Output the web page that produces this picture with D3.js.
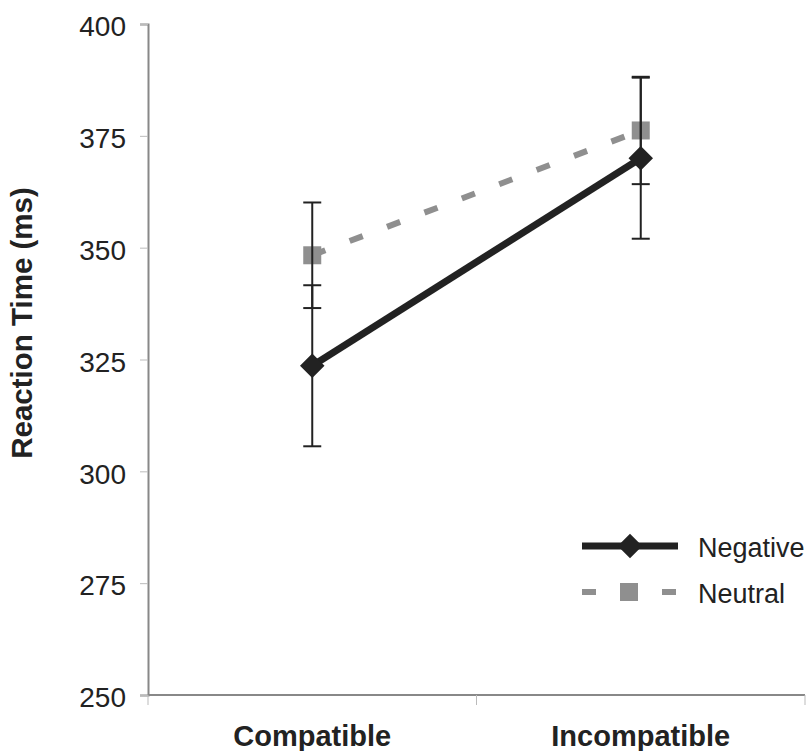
<!DOCTYPE html>
<html lang="en">
<head>
  <meta charset="UTF-8">
  <title>Reaction Time</title>
  <script src="https://d3js.org/d3.v7.min.js"></script>
  <style>
    body { margin: 0; background: #fff; }
    svg text { font-family: "Liberation Sans", Arial, sans-serif; fill: #222; }
  </style>
</head>
<body>
  <svg id="chart" width="808" height="751"></svg>
  <script>
    // data
    const categories = ["Compatible", "Incompatible"];
    const negative = [323.6, 370.0];
    const negativeErr = [18, 18];
    const neutral = [348.3, 376.2];
    const neutralErr = [11.8, 12];
    const yTicks = [250, 275, 300, 325, 350, 375, 400];

    const svg = d3.select("#chart");
    const plotLeft = 148, plotRight = 805, plotTop = 24, plotBottom = 695;

    const y = d3.scaleLinear().domain([250, 400]).range([plotBottom, plotTop]);
    const band = d3.scaleBand().domain(categories).range([plotLeft, plotRight]);
    const cx = d => band(d) + band.bandwidth() / 2;

    // y axis
    const yAxis = svg.append("g")
      .attr("transform", `translate(${plotLeft},0)`)
      .call(d3.axisLeft(y).tickValues(yTicks).tickSize(8).tickPadding(14));
    yAxis.select(".domain").attr("stroke", "#888").attr("stroke-width", 2);
    yAxis.selectAll(".tick line").attr("stroke", "#bbb");
    yAxis.selectAll(".tick text")
      .attr("font-size", 28)
      .attr("fill", "#222")
      .attr("dy", "0.42em");

    // x axis with ticks at band edges
    const edges = categories.map(c => band(c)).concat([plotRight]);
    svg.append("line")
      .attr("x1", plotLeft).attr("x2", plotRight)
      .attr("y1", plotBottom).attr("y2", plotBottom)
      .attr("stroke", "#888").attr("stroke-width", 2);
    svg.selectAll(".xtick").data(edges).enter().append("line")
      .attr("class", "xtick")
      .attr("x1", d => d).attr("x2", d => d)
      .attr("y1", plotBottom).attr("y2", plotBottom + 10)
      .attr("stroke", "#bbb");
    svg.selectAll(".xlab").data(categories).enter().append("text")
      .attr("class", "xlab")
      .attr("x", cx).attr("y", 746)
      .attr("text-anchor", "middle")
      .attr("font-size", 29)
      .attr("font-weight", "bold")
      .text(d => d);

    svg.append("text")
      .attr("transform", "translate(32,323) rotate(-90)")
      .attr("text-anchor", "middle")
      .attr("font-size", 29.5)
      .attr("font-weight", "bold")
      .text("Reaction Time (ms)");

    const line = d3.line().x((d, i) => cx(categories[i])).y(d => y(d));

    // neutral series
    svg.append("path")
      .datum(neutral)
      .attr("d", line)
      .attr("fill", "none")
      .attr("stroke", "#8f8f8f")
      .attr("stroke-width", 6)
      .attr("stroke-dasharray", "14,26");
    svg.selectAll(".sq").data(neutral).enter().append("rect")
      .attr("class", "sq")
      .attr("x", (d, i) => cx(categories[i]) - 9)
      .attr("y", d => y(d) - 9)
      .attr("width", 18).attr("height", 18)
      .attr("fill", "#8f8f8f");

    // error bars
    const bars = [];
    categories.forEach((c, i) => {
      bars.push({ c, v: negative[i], e: negativeErr[i] });
      bars.push({ c, v: neutral[i], e: neutralErr[i] });
    });
    const eb = svg.selectAll(".eb").data(bars).enter().append("g")
      .attr("class", "eb")
      .attr("stroke", "#222").attr("stroke-width", 2);
    eb.append("line")
      .attr("x1", d => cx(d.c)).attr("x2", d => cx(d.c))
      .attr("y1", d => y(d.v - d.e)).attr("y2", d => y(d.v + d.e));
    eb.append("line")
      .attr("x1", d => cx(d.c) - 9).attr("x2", d => cx(d.c) + 9)
      .attr("y1", d => y(d.v - d.e)).attr("y2", d => y(d.v - d.e));
    eb.append("line")
      .attr("x1", d => cx(d.c) - 9).attr("x2", d => cx(d.c) + 9)
      .attr("y1", d => y(d.v + d.e)).attr("y2", d => y(d.v + d.e));

    // negative series
    svg.append("path")
      .datum(negative)
      .attr("d", line)
      .attr("fill", "none")
      .attr("stroke", "#222")
      .attr("stroke-width", 7);
    const diamond = d3.symbol().type(d3.symbolSquare).size(300);
    svg.selectAll(".dm").data(negative).enter().append("path")
      .attr("class", "dm")
      .attr("d", diamond)
      .attr("transform", (d, i) => `translate(${cx(categories[i])},${y(d)}) rotate(45)`)
      .attr("fill", "#222");

    // legend
    const lg = svg.append("g");
    lg.append("line")
      .attr("x1", 582).attr("x2", 678).attr("y1", 546).attr("y2", 546)
      .attr("stroke", "#222").attr("stroke-width", 7);
    lg.append("path")
      .attr("d", diamond)
      .attr("transform", "translate(630,546) rotate(45)")
      .attr("fill", "#222");
    lg.append("text").attr("x", 698).attr("y", 547).attr("dy", "0.36em")
      .attr("font-size", 27).text("Negative");
    lg.append("line")
      .attr("x1", 582).attr("x2", 678).attr("y1", 592).attr("y2", 592)
      .attr("stroke", "#8f8f8f").attr("stroke-width", 6)
      .attr("stroke-dasharray", "14,26");
    lg.append("rect")
      .attr("x", 620).attr("y", 583).attr("width", 18).attr("height", 18)
      .attr("fill", "#8f8f8f");
    lg.append("text").attr("x", 698).attr("y", 593).attr("dy", "0.36em")
      .attr("font-size", 27).text("Neutral");
  </script>
</body>
</html>
